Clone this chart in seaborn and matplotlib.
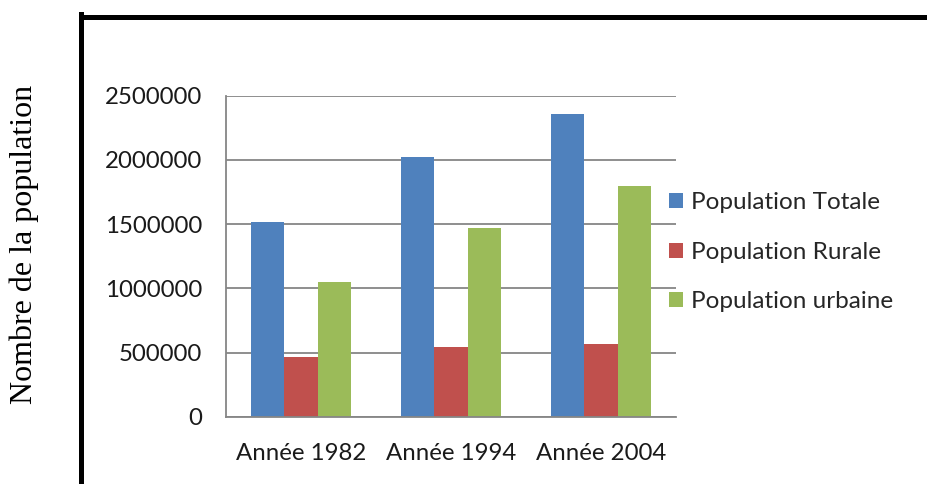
import matplotlib
matplotlib.use("Agg")
import matplotlib.pyplot as plt
from matplotlib.lines import Line2D
from matplotlib.patches import Patch
import seaborn as sns
import pandas as pd

categories = ["Année 1982", "Année 1994", "Année 2004"]
series = ["Population Totale", "Population Rurale", "Population urbaine"]
pop_totale = [1516000, 2020000, 2357000]
pop_rurale = [467000, 543000, 564000]
pop_urbaine = [1047000, 1472000, 1794000]
yticks = [0, 500000, 1000000, 1500000, 2000000, 2500000]
colors = ["#4F81BD", "#C0504D", "#9BBB59"]
y_label = "Nombre de la population"

rows = []
for s, vals in zip(series, [pop_totale, pop_rurale, pop_urbaine]):
    for c, v in zip(categories, vals):
        rows.append({"cat": c, "serie": s, "val": v})
df = pd.DataFrame(rows)

sns.set_style("white")
plt.rcParams["font.family"] = ["Lato", "DejaVu Sans"]

fig = plt.figure(figsize=(9.27, 4.84), dpi=100)
W, H = 927, 484
ax = fig.add_axes([226 / W, 1 - 416.7 / H, (676 - 226) / W, (416.7 - 95.7) / H])

sns.barplot(data=df, x="cat", y="val", hue="serie", order=categories,
            hue_order=series, palette=colors, width=0.667, saturation=1,
            linewidth=0, ax=ax, legend=False)

grid_c = "#868686"
ax.set_ylim(0, 2500000)
ax.set_xlim(-0.5, 2.5)
ax.set_yticks(yticks)
ax.set_yticklabels([str(v) for v in yticks], fontsize=17.3, color="#1a1a1a")
ax.yaxis.grid(True, color=grid_c, linewidth=1.3)
ax.set_axisbelow(True)
ax.tick_params(axis="y", length=5.5, width=1.3, color=grid_c, pad=11.5)
ax.set_xticks(range(len(categories)))
ax.set_xticklabels(categories, fontsize=17.3, color="#1a1a1a")
ax.set_xticks([-0.5, 0.5, 1.5, 2.5], minor=True)
ax.tick_params(axis="x", which="major", length=0, pad=19)
ax.tick_params(axis="x", which="minor", length=5.5, width=1.3, color=grid_c)
ax.set_xlabel("")
ax.set_ylabel("")
for side in ["top", "right"]:
    ax.spines[side].set_visible(False)
for side in ["left", "bottom"]:
    ax.spines[side].set_color(grid_c)
    ax.spines[side].set_linewidth(1.3)

handles = [Patch(facecolor=c, edgecolor="none") for c in colors]
fig.legend(handles, series, loc="upper left",
           bbox_to_anchor=(669 / W, 1 - 192 / H), frameon=False,
           fontsize=17.5, handlelength=0.58, handleheight=0.58,
           handletextpad=0.33, labelspacing=1.18, borderpad=0,
           borderaxespad=0)

fig.text(24 / W, 1 - 244 / H, y_label, rotation=90, ha="center", va="center",
         fontsize=23, family=["Liberation Serif"], color="black")

fig.add_artist(Line2D([81 / W, 81 / W], [0, 1 - 14 / H], color="black",
                      linewidth=3.6, transform=fig.transFigure,
                      solid_capstyle="projecting"))
fig.add_artist(Line2D([81 / W, 1.0], [1 - 16.5 / H, 1 - 16.5 / H], color="black",
                      linewidth=3.6, transform=fig.transFigure,
                      solid_capstyle="projecting"))

fig.savefig("out.png", dpi=100)
